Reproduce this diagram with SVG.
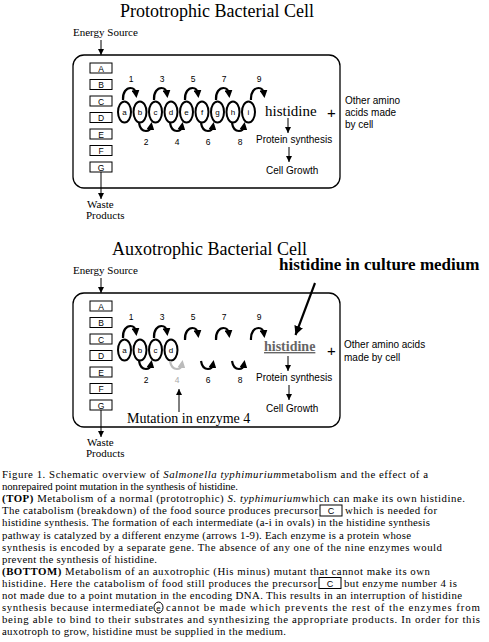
<svg xmlns="http://www.w3.org/2000/svg" xmlns:xlink="http://www.w3.org/1999/xlink" width="489" height="642" viewBox="0 0 489 642">
<style>
.cell{fill:none;stroke:#000;stroke-width:1.3}
.box{fill:#fff;stroke:#000;stroke-width:1}
.ov{fill:#fff;stroke:#000;stroke-width:2}
.thick{fill:none;stroke:#000;stroke-width:2.2}
.thin{fill:none;stroke:#000;stroke-width:1}
.sans{font-family:"Liberation Sans",Arial,sans-serif;fill:#000}
.serif{font-family:"Liberation Serif","Times New Roman",serif;fill:#000}
.bl{font-size:8.5px;text-anchor:middle}
.ol{font-size:8px;text-anchor:middle}
.num{font-size:8.5px;text-anchor:middle}
.title{font-size:18px}
.small{font-size:11px}
.lab{font-size:10px}
.cap{font-size:10.8px}
</style>
<defs>
<marker id="ah" markerUnits="userSpaceOnUse" markerWidth="8" markerHeight="8" refX="4" refY="4" orient="auto" viewBox="0 0 8 8"><path d="M0,0 L8,4 L0,8 z" fill="#000"/></marker>
<marker id="ahg" markerUnits="userSpaceOnUse" markerWidth="8" markerHeight="8" refX="4" refY="4" orient="auto" viewBox="0 0 8 8"><path d="M0,0 L8,4 L0,8 z" fill="#bbb"/></marker>
<marker id="ahs" markerUnits="userSpaceOnUse" markerWidth="6" markerHeight="6" refX="6" refY="3" orient="auto" viewBox="0 0 6 6"><path d="M0,0 L6,3 L0,6 z" fill="#000"/></marker>
<marker id="ahb" markerUnits="userSpaceOnUse" markerWidth="9" markerHeight="9" refX="9" refY="4.5" orient="auto" viewBox="0 0 9 9"><path d="M0,0 L9,4.5 L0,9 z" fill="#000"/></marker>
<path id="ao" d="M-1.5,100 C-2,92 2,88 6,88 C9,88 11,90 11.5,94" class="thick" marker-end="url(#ah)"/>
<path id="ae" d="M-1,123 C0,129 3,131 6,131 C9,131 10.5,129 11,126" class="thick" marker-end="url(#ah)"/>
</defs>
<rect width="489" height="642" fill="#fff"/>

<!-- TOP: Prototrophic -->
<g id="top-title"><text class="serif title" x="120" y="17">Prototrophic Bacterial Cell</text></g>
<g id="top-energy"><text class="serif small" x="73" y="36">Energy Source</text></g>
<g id="top-cell"><rect class="cell" x="73" y="55" width="267" height="133" rx="11"/></g>
<g id="top-boxes">
<g id="tA"><rect class="box" x="90" y="63" width="22" height="10"/><text class="sans bl" x="101" y="71.5">A</text></g>
<g id="tB"><rect class="box" x="90" y="79.5" width="22" height="10"/><text class="sans bl" x="101" y="88">B</text></g>
<g id="tC"><rect class="box" x="90" y="96" width="22" height="10"/><text class="sans bl" x="101" y="104.5">C</text></g>
<g id="tD"><rect class="box" x="90" y="112.5" width="22" height="10"/><text class="sans bl" x="101" y="121">D</text></g>
<g id="tE"><rect class="box" x="90" y="129" width="22" height="10"/><text class="sans bl" x="101" y="137.5">E</text></g>
<g id="tF"><rect class="box" x="90" y="145.5" width="22" height="10"/><text class="sans bl" x="101" y="154">F</text></g>
<g id="tG"><rect class="box" x="90" y="162" width="22" height="10"/><text class="sans bl" x="101" y="170.5">G</text></g>
</g>
<g id="top-ovals">
<g id="oa"><ellipse class="ov" cx="124.5" cy="112" rx="6.5" ry="10.5"/><text class="sans ol" x="124.5" y="115">a</text></g>
<g id="ob"><ellipse class="ov" cx="140" cy="112" rx="6.5" ry="10.5"/><text class="sans ol" x="140" y="115">b</text></g>
<g id="oc"><ellipse class="ov" cx="155.5" cy="112" rx="6.5" ry="10.5"/><text class="sans ol" x="155.5" y="115">c</text></g>
<g id="od"><ellipse class="ov" cx="171" cy="112" rx="6.5" ry="10.5"/><text class="sans ol" x="171" y="115">d</text></g>
<g id="oe"><ellipse class="ov" cx="186.5" cy="112" rx="6.5" ry="10.5"/><text class="sans ol" x="186.5" y="115">e</text></g>
<g id="of"><ellipse class="ov" cx="202" cy="112" rx="6.5" ry="10.5"/><text class="sans ol" x="202" y="115">f</text></g>
<g id="og"><ellipse class="ov" cx="217.5" cy="112" rx="6.5" ry="10.5"/><text class="sans ol" x="217.5" y="115">g</text></g>
<g id="oh"><ellipse class="ov" cx="233" cy="112" rx="6.5" ry="10.5"/><text class="sans ol" x="233" y="115">h</text></g>
<g id="oi"><ellipse class="ov" cx="248.5" cy="112" rx="6.5" ry="10.5"/><text class="sans ol" x="248.5" y="115">i</text></g>
</g>
<g id="top-numbers">
<text class="sans num" x="131" y="82">1</text><text class="sans num" x="162" y="82">3</text><text class="sans num" x="193" y="82">5</text><text class="sans num" x="224" y="82">7</text><text class="sans num" x="259" y="82">9</text>
<text class="sans num" x="146" y="145">2</text><text class="sans num" x="177" y="145">4</text><text class="sans num" x="208" y="145">6</text><text class="sans num" x="240" y="145">8</text>
</g>
<g id="top-histidine"><text class="serif" font-size="15" x="265" y="116">histidine</text></g>
<g id="top-plus"><text class="sans" font-size="15" x="331.5" y="118" text-anchor="middle">+</text></g>
<g id="top-other"><text class="sans lab" x="345" y="104">Other amino</text><text class="sans lab" x="345" y="116">acids made</text><text class="sans lab" x="345" y="128">by cell</text></g>
<g id="top-protein"><text class="sans lab" x="256" y="143">Protein synthesis</text></g>
<g id="top-growth"><text class="sans lab" x="266" y="174">Cell Growth</text></g>
<g id="top-waste"><text class="serif small" x="87" y="208">Waste</text><text class="serif small" x="86" y="219">Products</text></g>

<!-- BOTTOM: Auxotrophic -->
<g id="bot-title"><text class="serif title" x="112" y="255">Auxotrophic Bacterial Cell</text></g>
<g id="bot-energy"><text class="serif small" x="73" y="274">Energy Source</text></g>
<g id="bot-medium"><text class="serif" font-size="17" font-weight="bold" x="279" y="270">histidine in culture medium</text></g>
<g id="bot-cell"><rect class="cell" x="73" y="293" width="267" height="134" rx="11"/></g>
<g id="bot-boxes">
<g id="bA"><rect class="box" x="90" y="301" width="22" height="10"/><text class="sans bl" x="101" y="309.5">A</text></g>
<g id="bB"><rect class="box" x="90" y="317.5" width="22" height="10"/><text class="sans bl" x="101" y="326">B</text></g>
<g id="bC"><rect class="box" x="90" y="334" width="22" height="10"/><text class="sans bl" x="101" y="342.5">C</text></g>
<g id="bD"><rect class="box" x="90" y="350.5" width="22" height="10"/><text class="sans bl" x="101" y="359">D</text></g>
<g id="bE"><rect class="box" x="90" y="367" width="22" height="10"/><text class="sans bl" x="101" y="375.5">E</text></g>
<g id="bF"><rect class="box" x="90" y="383.5" width="22" height="10"/><text class="sans bl" x="101" y="392">F</text></g>
<g id="bG"><rect class="box" x="90" y="400" width="22" height="10"/><text class="sans bl" x="101" y="408.5">G</text></g>
</g>
<g id="bot-ovals">
<g id="ba"><ellipse class="ov" cx="124.5" cy="350" rx="6.5" ry="10.5"/><text class="sans ol" x="124.5" y="353">a</text></g>
<g id="bb"><ellipse class="ov" cx="140" cy="350" rx="6.5" ry="10.5"/><text class="sans ol" x="140" y="353">b</text></g>
<g id="bc"><ellipse class="ov" cx="155.5" cy="350" rx="6.5" ry="10.5"/><text class="sans ol" x="155.5" y="353">c</text></g>
<g id="bd"><ellipse class="ov" cx="171" cy="350" rx="6.5" ry="10.5"/><text class="sans ol" x="171" y="353">d</text></g>
</g>
<g id="bot-numbers">
<text class="sans num" x="131" y="320">1</text><text class="sans num" x="162" y="320">3</text><text class="sans num" x="193" y="320">5</text><text class="sans num" x="224" y="320">7</text><text class="sans num" x="259" y="320">9</text>
<text class="sans num" x="146" y="383">2</text><text class="sans num" x="177" y="383" style="fill:#aaa">4</text><text class="sans num" x="208" y="383">6</text><text class="sans num" x="240" y="383">8</text>
</g>
<g id="bot-histidine"><text class="serif" font-size="14" font-weight="bold" x="264" y="351" style="fill:#666" text-decoration="underline">histidine</text></g>
<g id="bot-plus"><text class="sans" font-size="15" x="331.5" y="356" text-anchor="middle">+</text></g>
<g id="bot-other"><text class="sans lab" x="344" y="348">Other amino acids</text><text class="sans lab" x="344" y="361">made by cell</text></g>
<g id="bot-protein"><text class="sans lab" x="256" y="381">Protein synthesis</text></g>
<g id="bot-growth"><text class="sans lab" x="266" y="412">Cell Growth</text></g>
<g id="bot-mutation"><text class="serif" font-size="14" x="127" y="423">Mutation in enzyme 4</text></g>
<g id="bot-waste"><text class="serif small" x="87" y="446">Waste</text><text class="serif small" x="86" y="457">Products</text></g>

<g id="connectors">
<line class="thin" x1="101" y1="40" x2="101" y2="55" marker-end="url(#ahs)"/>
<line class="thin" x1="101" y1="172" x2="101" y2="199" marker-end="url(#ahs)"/>
<use xlink:href="#ao" x="124.5"/><use xlink:href="#ao" x="155.5"/><use xlink:href="#ao" x="186.5"/><use xlink:href="#ao" x="217.5"/><use xlink:href="#ao" x="252.5"/>
<use xlink:href="#ae" x="140"/><use xlink:href="#ae" x="171"/><use xlink:href="#ae" x="202"/><use xlink:href="#ae" x="233"/>
<line class="thin" x1="288" y1="118" x2="288" y2="133" marker-end="url(#ahs)"/>
<line class="thin" x1="289" y1="147" x2="289" y2="162" marker-end="url(#ahs)"/>

<line class="thin" x1="101" y1="278" x2="101" y2="293" marker-end="url(#ahs)"/>
<line class="thin" x1="101" y1="410" x2="101" y2="437" marker-end="url(#ahs)"/>
<use xlink:href="#ao" x="124.5" y="238"/><use xlink:href="#ao" x="155.5" y="238"/><use xlink:href="#ao" x="186.5" y="240"/><use xlink:href="#ao" x="217.5" y="240"/><use xlink:href="#ao" x="252.5" y="240"/>
<use xlink:href="#ae" x="140" y="238"/><use xlink:href="#ae" x="202" y="238"/><use xlink:href="#ae" x="233" y="238"/>
<path d="M170,361 C171,367 174,369 177,369 C180,369 181.5,367 182,364" fill="none" stroke="#bbb" stroke-width="2.2" marker-end="url(#ahg)"/>
<line class="thin" x1="288" y1="356" x2="288" y2="371" marker-end="url(#ahs)"/>
<line class="thin" x1="289" y1="385" x2="289" y2="400" marker-end="url(#ahs)"/>
<line class="thin" x1="179" y1="412" x2="179" y2="389" marker-end="url(#ahs)"/>
<line class="thick" x1="315" y1="283" x2="295.5" y2="335" marker-end="url(#ahb)"/>
</g>

<g id="caption">
<text class="serif cap" x="2" y="478" textLength="426" lengthAdjust="spacing">Figure 1. Schematic overview of <tspan font-style="italic">Salmonella typhimurium</tspan>metabolism and the effect of a</text>
<text class="serif cap" x="2" y="490.1" textLength="236" lengthAdjust="spacing">nonrepaired point mutation in the synthesis of histidine.</text>
<text class="serif cap" x="2" y="502.2" textLength="463" lengthAdjust="spacing"><tspan font-weight="bold">(TOP)</tspan> Metabolism of a normal (prototrophic) <tspan font-style="italic">S. typhimurium</tspan>which can make its own histidine.</text>
<text class="serif cap" x="2" y="514.3" textLength="316" lengthAdjust="spacing">The catabolism (breakdown) of the food source produces precursor</text>
<rect class="box" x="320" y="505" width="22" height="11"/><text class="sans" font-size="9" x="331" y="514" text-anchor="middle">C</text>
<text class="serif cap" x="345" y="514.3" textLength="92" lengthAdjust="spacing">which is needed for</text>
<text class="serif cap" x="2" y="526.4" textLength="428" lengthAdjust="spacing">histidine synthesis. The formation of each intermediate (a-i in ovals) in the histidine synthesis</text>
<text class="serif cap" x="2" y="538.5" textLength="409" lengthAdjust="spacing">pathway is catalyzed by a different enzyme (arrows 1-9). Each enzyme is a protein whose</text>
<text class="serif cap" x="2" y="550.6" textLength="440" lengthAdjust="spacing">synthesis is encoded by a separate gene. The absence of any one of the nine enzymes would</text>
<text class="serif cap" x="2" y="562.7" textLength="155" lengthAdjust="spacing">prevent the synthesis of histidine.</text>
<text class="serif cap" x="2" y="574.8" textLength="428" lengthAdjust="spacing"><tspan font-weight="bold">(BOTTOM)</tspan> Metabolism of an auxotrophic (His minus) mutant that cannot make its own</text>
<text class="serif cap" x="2" y="586.9" textLength="315" lengthAdjust="spacing">histidine. Here the catabolism of food still produces the precursor</text>
<rect class="box" x="319" y="577.5" width="22" height="11"/><text class="sans" font-size="9" x="330" y="586.5" text-anchor="middle">C</text>
<text class="serif cap" x="344" y="586.9" textLength="113" lengthAdjust="spacing">but enzyme number 4 is</text>
<text class="serif cap" x="2" y="599" textLength="460" lengthAdjust="spacing">not made due to a point mutation in the encoding DNA. This results in an interruption of histidine</text>
<text class="serif cap" x="2" y="611.1" textLength="151" lengthAdjust="spacing">synthesis because intermediate</text>
<ellipse cx="158.5" cy="607.5" rx="4.5" ry="5.5" fill="none" stroke="#000" stroke-width="1"/><text class="sans" font-size="8" x="158.5" y="610.5" text-anchor="middle">e</text>
<text class="serif cap" x="166" y="611.1" textLength="314" lengthAdjust="spacing">cannot be made which prevents the rest of the enzymes from</text>
<text class="serif cap" x="2" y="623.2" textLength="478" lengthAdjust="spacing">being able to bind to their substrates and synthesizing the appropriate products.  In order for this</text>
<text class="serif cap" x="2" y="635.3" textLength="284" lengthAdjust="spacing">auxotroph to grow, histidine must be supplied in the medium.</text>
</g>
</svg>
